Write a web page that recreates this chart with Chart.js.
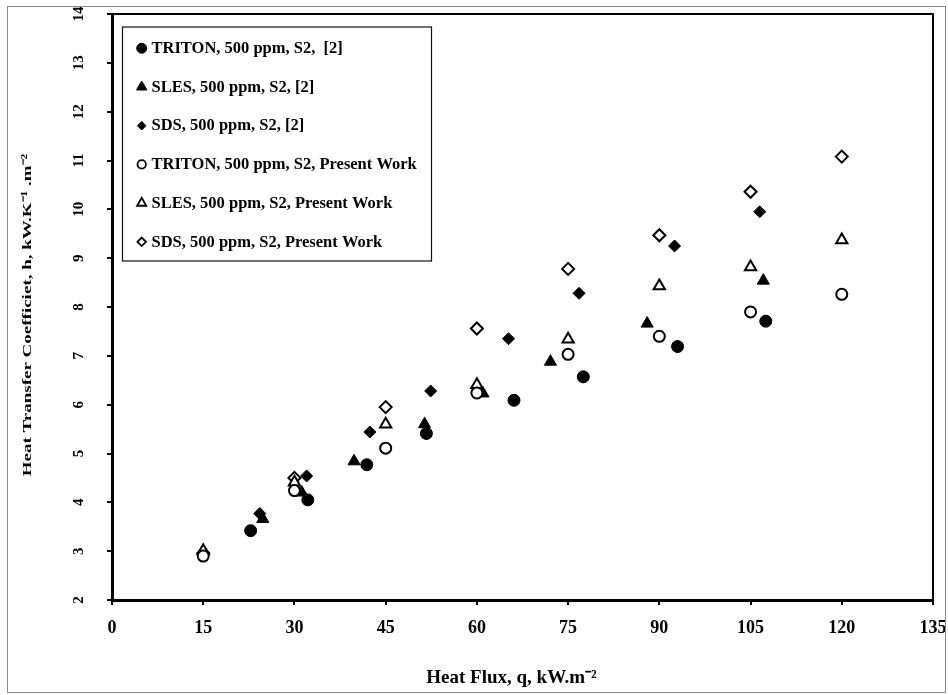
<!DOCTYPE html>
<html>
<head>
<meta charset="utf-8">
<script src="https://cdn.jsdelivr.net/npm/chart.js@4.4.1/dist/chart.umd.min.js"></script>
<style>
html,body{margin:0;padding:0;background:#fff;}
#wrap{position:relative;width:948px;height:695px;overflow:hidden;}
#frame{position:absolute;left:7px;top:6px;width:939px;height:687px;border:1px solid #8a8a8a;box-sizing:border-box;pointer-events:none;}
canvas{display:block;}
</style>
</head>
<body>
<div id="wrap"><canvas id="c" width="948" height="695"></canvas><div id="frame"></div></div>
<script>
// ---- data ----
const seriesLabels = [
  'TRITON, 500 ppm, S2,  [2]',
  'SLES, 500 ppm, S2, [2]',
  'SDS, 500 ppm, S2, [2]',
  'TRITON, 500 ppm, S2, Present Work',
  'SLES, 500 ppm, S2, Present Work',
  'SDS, 500 ppm, S2, Present Work'
];
const tritonRefFlux = [22.8, 32.2, 41.9, 51.7, 66.1, 77.5, 93.0, 107.5];
const tritonRefH    = [3.42, 4.05, 4.77, 5.41, 6.09, 6.57, 7.19, 7.71];
const slesRefFlux   = [24.8, 31.2, 39.8, 51.4, 61.0, 72.1, 88.0, 107.1];
const slesRefH      = [3.66, 4.20, 4.84, 5.60, 6.23, 6.88, 7.66, 8.54];
const sdsRefFlux    = [24.3, 32.0, 42.4, 52.4, 65.2, 76.8, 92.5, 106.5];
const sdsRefH       = [3.77, 4.54, 5.44, 6.28, 7.35, 8.28, 9.25, 9.95];
const presentFlux    = [15, 30, 45, 60, 75, 90, 105, 120];
const tritonPresentH = [2.90, 4.24, 5.11, 6.24, 7.03, 7.40, 7.90, 8.26];
const slesPresentH   = [3.01, 4.41, 5.60, 6.41, 7.34, 8.43, 8.82, 9.37];
const sdsPresentH    = [2.96, 4.50, 5.95, 7.56, 8.78, 9.47, 10.36, 11.08];
const xTitle = 'Heat Flux, q, kW.m\u207B\u00B2';
const yTitle = 'Heat Transfer Coefficiet, h, kW.K\u207B\u00B9 .m\u207B\u00B2';
const xMin = 0, xMax = 135, xStep = 15;
const yMin = 2, yMax = 14, yStep = 1;

const pts = (xs, ys) => xs.map((x, i) => ({x: x, y: ys[i]}));

Chart.defaults.font.family = "'Liberation Serif', 'Times New Roman', serif";
Chart.defaults.font.weight = 'bold';
Chart.defaults.color = '#000';

function filled(style, r) {
  return {pointStyle: style, pointRadius: r, pointHoverRadius: r, backgroundColor: '#000', borderColor: '#000', borderWidth: 1, showLine: false, order: 1};
}
function open(style, r) {
  return {pointStyle: style, pointRadius: r, pointHoverRadius: r, backgroundColor: '#fff', borderColor: '#000', borderWidth: 2, showLine: false, order: 0};
}

const datasets = [
  Object.assign({label: seriesLabels[0], data: pts(tritonRefFlux, tritonRefH)}, filled('circle', 6)),
  Object.assign({label: seriesLabels[1], data: pts(slesRefFlux, slesRefH)}, filled('triangle', 7)),
  Object.assign({label: seriesLabels[2], data: pts(sdsRefFlux, sdsRefH)}, filled('rectRot', 6)),
  Object.assign({label: seriesLabels[3], data: pts(presentFlux, tritonPresentH)}, open('circle', 5.5)),
  Object.assign({label: seriesLabels[4], data: pts(presentFlux, slesPresentH)}, open('triangle', 6.5)),
  Object.assign({label: seriesLabels[5], data: pts(presentFlux, sdsPresentH)}, open('rectRot', 6))
];

// legend marker look
const legendMarks = [
  {r: 5, lw: 1, fill: '#000'},
  {r: 6, lw: 1, fill: '#000'},
  {r: 4.3, lw: 1, fill: '#000'},
  {r: 4.2, lw: 1.8, fill: '#fff'},
  {r: 5.3, lw: 1.8, fill: '#fff'},
  {r: 4.3, lw: 1.8, fill: '#fff'}
];

function marker(ctx, style, r, x, y) {
  ctx.beginPath();
  if (style === 'circle') {
    ctx.arc(x, y, r, 0, Math.PI * 2);
  } else if (style === 'triangle') {
    for (let k = 0; k < 3; k++) {
      const a = k * 2 * Math.PI / 3;
      const px = x + Math.sin(a) * r, py = y - Math.cos(a) * r;
      if (k === 0) ctx.moveTo(px, py); else ctx.lineTo(px, py);
    }
  } else {
    ctx.moveTo(x - r, y); ctx.lineTo(x, y - r); ctx.lineTo(x + r, y); ctx.lineTo(x, y + r);
  }
  ctx.closePath();
  ctx.fill();
  ctx.stroke();
}

const decor = {
  id: 'decor',
  beforeDraw(chart) {
    const ctx = chart.ctx;
    ctx.save();
    ctx.fillStyle = '#fff';
    ctx.fillRect(0, 0, chart.width, chart.height);
    ctx.restore();
    const ys = chart.scales.y;
    if (ys && !ys.__patched) {
      ys.__patched = true;
      const orig = ys.drawTitle;
      ys.drawTitle = function () {
        const c = this.ctx;
        const t = this.options.title;
        const cx = this.left + t.font.size * 1.2 / 2 + t.padding.top;
        const cy = (this.top + this.bottom) / 2;
        c.save();
        c.translate(cx, cy + 8);
        c.scale(0.7, 1);
        c.translate(-cx, -cy);
        orig.call(this);
        c.restore();
      };
    }
    const xs = chart.scales.x;
    if (xs && !xs.__patched) {
      xs.__patched = true;
      const origX = xs.drawTitle;
      xs.drawTitle = function () {
        const c = this.ctx;
        c.save();
        c.translate(-11, 0);
        origX.call(this);
        c.restore();
      };
    }
  },
  beforeDatasetsDraw(chart) {
    const {ctx, chartArea: a} = chart;
    ctx.save();
    ctx.strokeStyle = '#000';
    ctx.lineWidth = 2;
    ctx.strokeRect(a.left, a.top, a.right - a.left, a.bottom - a.top);
    ctx.restore();
  },
  afterDatasetsDraw(chart) {
    const ctx = chart.ctx;
    ctx.save();
    ctx.fillStyle = '#fff';
    ctx.strokeStyle = '#111';
    ctx.lineWidth = 1.2;
    ctx.fillRect(122.5, 27, 309, 234);
    ctx.strokeRect(122.5, 27, 309, 234);
    ctx.font = "bold 16.5px 'Liberation Serif', 'Times New Roman', serif";
    ctx.textBaseline = 'middle';
    ctx.textAlign = 'left';
    chart.data.datasets.forEach((ds, i) => {
      const y = 48.3 + i * 38.7;
      const m = legendMarks[i];
      ctx.fillStyle = m.fill;
      ctx.strokeStyle = '#000';
      ctx.lineWidth = m.lw;
      marker(ctx, ds.pointStyle, m.r, 141.7, y);
      ctx.fillStyle = '#000';
      ctx.fillText(ds.label, 151.5, y + 0.5);
    });
    ctx.restore();
  }
};

new Chart(document.getElementById('c'), {
  type: 'scatter',
  data: {datasets: datasets},
  options: {
    responsive: false,
    devicePixelRatio: 1,
    animation: false,
    events: [],
    layout: {padding: {left: 0, right: 15, top: 14, bottom: 0}},
    plugins: {legend: {display: false}, tooltip: {enabled: false}, title: {display: false}},
    scales: {
      x: {
        type: 'linear', position: 'bottom', min: xMin, max: xMax,
        afterFit: s => { s.height = 95; s.paddingLeft = 5; s.paddingRight = 14; },
        ticks: {stepSize: xStep, autoSkip: false, maxRotation: 0, padding: 13, color: '#000',
                font: {size: 18, weight: 'bold'}},
        grid: {drawOnChartArea: false, drawTicks: true, tickLength: 5, color: '#000', lineWidth: 2},
        border: {display: true, color: '#000', width: 3},
        title: {display: true, text: xTitle, color: '#000', font: {size: 19, weight: 'bold'},
                padding: {top: 0, bottom: 5.5}}
      },
      y: {
        type: 'linear', position: 'left', min: yMin, max: yMax,
        afterFit: s => { s.width = 112; s.paddingTop = 8; s.paddingBottom = 8; },
        ticks: {stepSize: yStep, autoSkip: false, minRotation: 90, maxRotation: 90, crossAlign: 'center',
                padding: 20, color: '#000', font: {size: 15, weight: 'bold'}},
        grid: {drawOnChartArea: false, drawTicks: true, tickLength: 5, color: '#000', lineWidth: 2},
        border: {display: true, color: '#000', width: 3},
        title: {display: true, text: yTitle, color: '#000', font: {size: 19, weight: 'bold'},
                padding: {top: 16, bottom: 0}}
      }
    }
  },
  plugins: [decor]
});
</script>
</body>
</html>
